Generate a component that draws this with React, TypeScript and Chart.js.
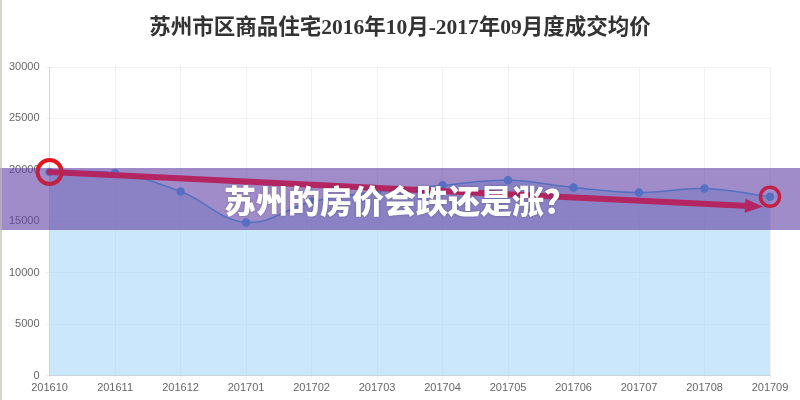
import React, { useEffect, useRef } from "react";
import { Chart, registerables } from "chart.js";

Chart.register(...registerables);

const months = [
  "201610", "201611", "201612", "201701", "201702", "201703",
  "201704", "201705", "201706", "201707", "201708", "201709",
];
const avgPrice = [
  19800, 19700, 17900, 14900, 16900, 17900,
  18500, 19000, 18300, 17800, 18200, 17400,
];
const yTicks = [0, 5000, 10000, 15000, 20000, 25000, 30000];
const chartTitle = "苏州市区商品住宅2016年10月-2017年09月度成交均价";
const bannerText = "苏州的房价会跌还是涨？";

const BANNER_TOP = 168;
const BANNER_H = 62;

// title, purple banner (two layers), red circles + arrow
const overlayPlugin = {
  id: "overlay",
  beforeDraw(chart: any) {
    const { ctx, width } = chart;
    ctx.save();
    ctx.font = 'bold 21.5px "Liberation Serif", "Noto Sans CJK SC", serif';
    ctx.fillStyle = "#333";
    ctx.textAlign = "center";
    ctx.textBaseline = "middle";
    ctx.fillText(chartTitle, width / 2, 28);
    ctx.restore();
  },
  beforeDatasetsDraw(chart: any) {
    // lower banner layer: over the area fill, under the line
    const { ctx, width } = chart;
    ctx.save();
    ctx.fillStyle = "rgba(100, 70, 165, 0.46)";
    ctx.fillRect(0, BANNER_TOP, width, BANNER_H);
    ctx.restore();
  },
  afterDatasetsDraw(chart: any) {
    const { ctx, scales } = chart;
    const last = avgPrice.length - 1;
    const x0 = scales.x.getPixelForValue(0);
    const y0 = scales.y.getPixelForValue(avgPrice[0]);
    const x1 = scales.x.getPixelForValue(last);
    const y1 = scales.y.getPixelForValue(avgPrice[last]);

    ctx.save();
    // arrow
    const tipX = x1 - 7;
    const tipY = y1 + 10;
    ctx.strokeStyle = "rgb(215, 25, 70)";
    ctx.fillStyle = "rgb(215, 25, 70)";
    ctx.lineWidth = 6;
    ctx.lineCap = "round";
    ctx.beginPath();
    ctx.moveTo(x0, y0);
    ctx.lineTo(tipX - 14, tipY - 0.6);
    ctx.stroke();
    const ang = Math.atan2(tipY - y0, tipX - x0);
    ctx.beginPath();
    ctx.moveTo(tipX, tipY);
    ctx.lineTo(tipX - 18 * Math.cos(ang) + 7 * Math.sin(ang), tipY - 18 * Math.sin(ang) - 7 * Math.cos(ang));
    ctx.lineTo(tipX - 18 * Math.cos(ang) - 7 * Math.sin(ang), tipY - 18 * Math.sin(ang) + 7 * Math.cos(ang));
    ctx.closePath();
    ctx.fill();

    // circles
    ctx.strokeStyle = "rgb(230, 20, 30)";
    ctx.lineWidth = 4;
    ctx.beginPath();
    ctx.arc(x0, y0, 12, 0, Math.PI * 2);
    ctx.stroke();
    ctx.lineWidth = 3.5;
    ctx.beginPath();
    ctx.arc(x1, y1, 9.5, 0, Math.PI * 2);
    ctx.stroke();
    // redraw the end point on top of the arrow
    ctx.fillStyle = "#4f82cf";
    ctx.beginPath();
    ctx.arc(x1, y1, 3.5, 0, Math.PI * 2);
    ctx.fill();
    ctx.restore();
  },
  afterDraw(chart: any) {
    const { ctx, width, height } = chart;
    ctx.save();
    // thin frame line on the left edge
    ctx.fillStyle = "#d9d5c9";
    ctx.fillRect(0, 0, 2, height);
    // upper banner layer
    ctx.fillStyle = "rgba(100, 70, 165, 0.3)";
    ctx.fillRect(0, BANNER_TOP, width, BANNER_H);
    ctx.font = '900 32px "Noto Sans CJK SC", sans-serif';
    ctx.fillStyle = "#ffffff";
    ctx.textAlign = "center";
    ctx.textBaseline = "middle";
    ctx.shadowColor = "rgba(0,0,0,0.25)";
    ctx.shadowBlur = 3;
    ctx.fillText(bannerText, width / 2, 201);
    ctx.restore();
  },
};

export default function App() {
  const canvasRef = useRef<HTMLCanvasElement>(null);
  const chartRef = useRef<Chart | null>(null);

  useEffect(() => {
    if (!canvasRef.current) return;
    if (chartRef.current) chartRef.current.destroy();

    chartRef.current = new Chart(canvasRef.current, {
      type: "line",
      data: {
        labels: months,
        datasets: [
          {
            label: "成交均价",
            data: avgPrice,
            borderColor: "#4f82cf",
            borderWidth: 1.5,
            backgroundColor: "rgba(151, 208, 250, 0.5)",
            fill: true,
            tension: 0.4,
            pointRadius: 3.5,
            pointBackgroundColor: "#4f82cf",
            pointBorderColor: "#4f82cf",
          },
        ],
      },
      options: {
        responsive: false,
        maintainAspectRatio: false,
        animation: false,
        layout: { padding: { left: 3, right: 30, bottom: 3, top: 67 } },
        plugins: {
          legend: { display: false },
          tooltip: { enabled: false },
          title: { display: false },
          filler: { drawTime: "beforeDatasetsDraw" },
        },
        scales: {
          x: {
            grid: { color: "rgba(0,0,0,0.05)", tickLength: 4 },
            border: { color: "rgba(0,0,0,0.12)" },
            ticks: {
              color: "#666",
              font: { family: '"Liberation Sans", sans-serif', size: 11 },
              maxRotation: 0,
              autoSkip: false,
              padding: 2,
            },
          },
          y: {
            min: 0,
            max: 30000,
            afterBuildTicks: (axis: any) => {
              axis.ticks = yTicks.map((v) => ({ value: v }));
            },
            grid: { color: "rgba(0,0,0,0.05)", tickLength: 4 },
            border: { color: "rgba(0,0,0,0.12)" },
            ticks: {
              color: "#666",
              font: { family: '"Liberation Sans", sans-serif', size: 11 },
              padding: 6,
              callback: (v: any) => String(v),
            },
          },
        },
      },
      plugins: [overlayPlugin],
    });

    return () => {
      if (chartRef.current) {
        chartRef.current.destroy();
        chartRef.current = null;
      }
    };
  }, []);

  return (
    <div
      style={{
        position: "fixed",
        left: 0,
        top: 0,
        width: 800,
        height: 400,
        background: "#fff",
      }}
    >
      <canvas ref={canvasRef} width={800} height={400} />
    </div>
  );
}
